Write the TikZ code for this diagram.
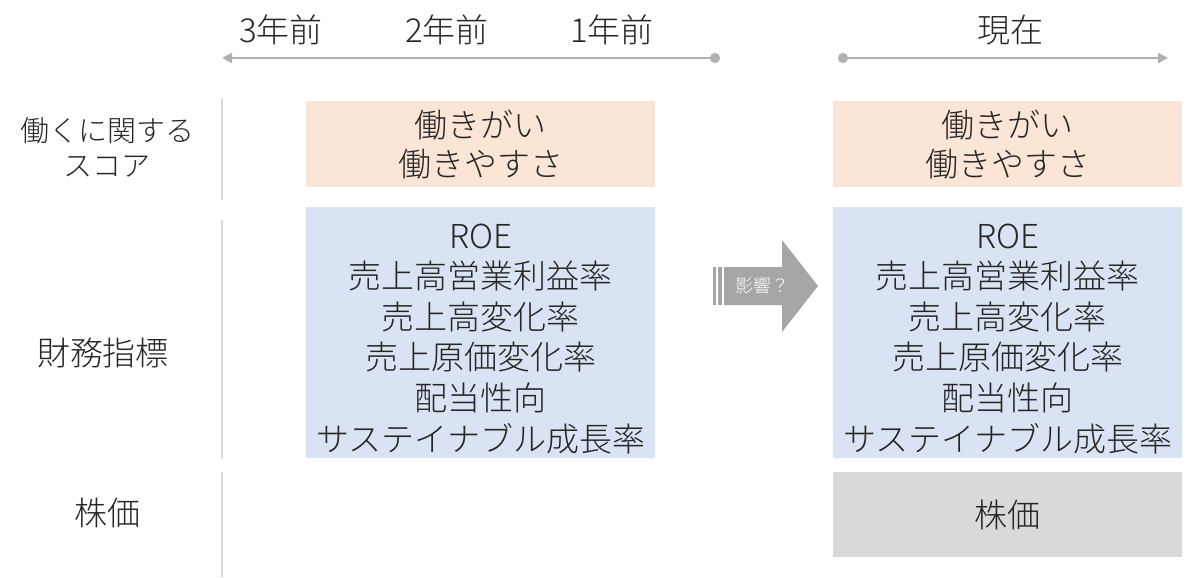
\documentclass[tikz,border=0pt]{standalone}
\usepackage{fontspec}
\IfFontExistsTF{Noto Sans CJK JP Light}{\setmainfont{Noto Sans CJK JP Light}}{\setmainfont{Noto Sans CJK JP}}
\usetikzlibrary{arrows.meta}
\definecolor{txt}{HTML}{262626}
\definecolor{orangebox}{HTML}{FBE5D6}
\definecolor{bluebox}{HTML}{DAE3F3}
\definecolor{graybox}{HTML}{D9D9D9}
\definecolor{tline}{HTML}{B0B0B0}
\definecolor{sepline}{HTML}{D9D9D9}
\definecolor{arrowgray}{HTML}{A6A6A6}
\tikzset{
  lbl/.style={text=txt, font=\fontsize{33}{39}\selectfont, align=center, inner sep=0pt},
  smalllbl/.style={text=txt, font=\fontsize{29}{35}\selectfont, align=center, inner sep=0pt},
  box/.style={lbl, minimum width=349pt, anchor=north west},
  listtxt/.style={lbl, font=\fontsize{33}{40.6}\selectfont},
  timeline/.style={draw=tline, line width=2.5pt},
  sepstyle/.style={draw=sepline, line width=2pt},
}
\begin{document}
\begin{tikzpicture}[x=1pt,y=-1pt]
\useasboundingbox (0,0) rectangle (1200,578);

% time labels
\node[lbl] (t3) at (281,30) {3年前};
\node[lbl] (t2) at (447,30) {2年前};
\node[lbl] (t1) at (612,30) {1年前};
\node[lbl] (t0) at (1010,30) {現在};

% timelines
\coordinate (pastS) at (720,58);
\coordinate (pastE) at (222,58);
\coordinate (nowS) at (838,58);
\coordinate (nowE) at (1168,58);
\draw[timeline, {Circle[length=10pt]}-{Triangle[length=10pt,width=10pt]}] (pastS) -- (pastE);
\draw[timeline, {Circle[length=10pt]}-{Triangle[length=10pt,width=10pt]}] (nowS) -- (nowE);

% row labels
\node[smalllbl] (r1) at (107,147) {働くに関する\\スコア};
\node[lbl] (r2) at (103,353) {財務指標};
\node[lbl] (r3) at (107,513) {株価};

% separators
\draw[sepstyle] (222,98) -- (222,200);
\draw[sepstyle] (222,220) -- (222,458);
\draw[sepstyle] (222,472) -- (222,577);

% left boxes
\node[box, fill=orangebox, minimum height=86pt] (o1) at (306,101) {働きがい\\働きやすさ};
\node[box, fill=bluebox, minimum height=251pt] (b1) at (306,207) {};
\node[listtxt] (b1t) at ([yshift=-6pt]b1.center)
  {ROE\\売上高営業利益率\\売上高変化率\\売上原価変化率\\配当性向\\サステイナブル成長率};

% right boxes
\node[box, fill=orangebox, minimum height=86pt] (o2) at (833,101) {働きがい\\働きやすさ};
\node[box, fill=bluebox, minimum height=251pt] (b2) at (833,207) {};
\node[listtxt] (b2t) at ([yshift=-6pt]b2.center)
  {ROE\\売上高営業利益率\\売上高変化率\\売上原価変化率\\配当性向\\サステイナブル成長率};
\node[box, fill=graybox, minimum height=85pt] (g2) at (833,472) {株価};

% block arrow
\fill[arrowgray] (724,267) -- (782,267) -- (782,240) -- (818,286) -- (782,332) -- (782,305) -- (724,305) -- cycle;
\fill[arrowgray] (713,267) rectangle (716,305);
\fill[arrowgray] (718,267) rectangle (722,305);
\node[text=white, font=\fontsize{18}{20}\selectfont, inner sep=0pt] (eff) at (762,286) {影響？};

\end{tikzpicture}
\end{document}
